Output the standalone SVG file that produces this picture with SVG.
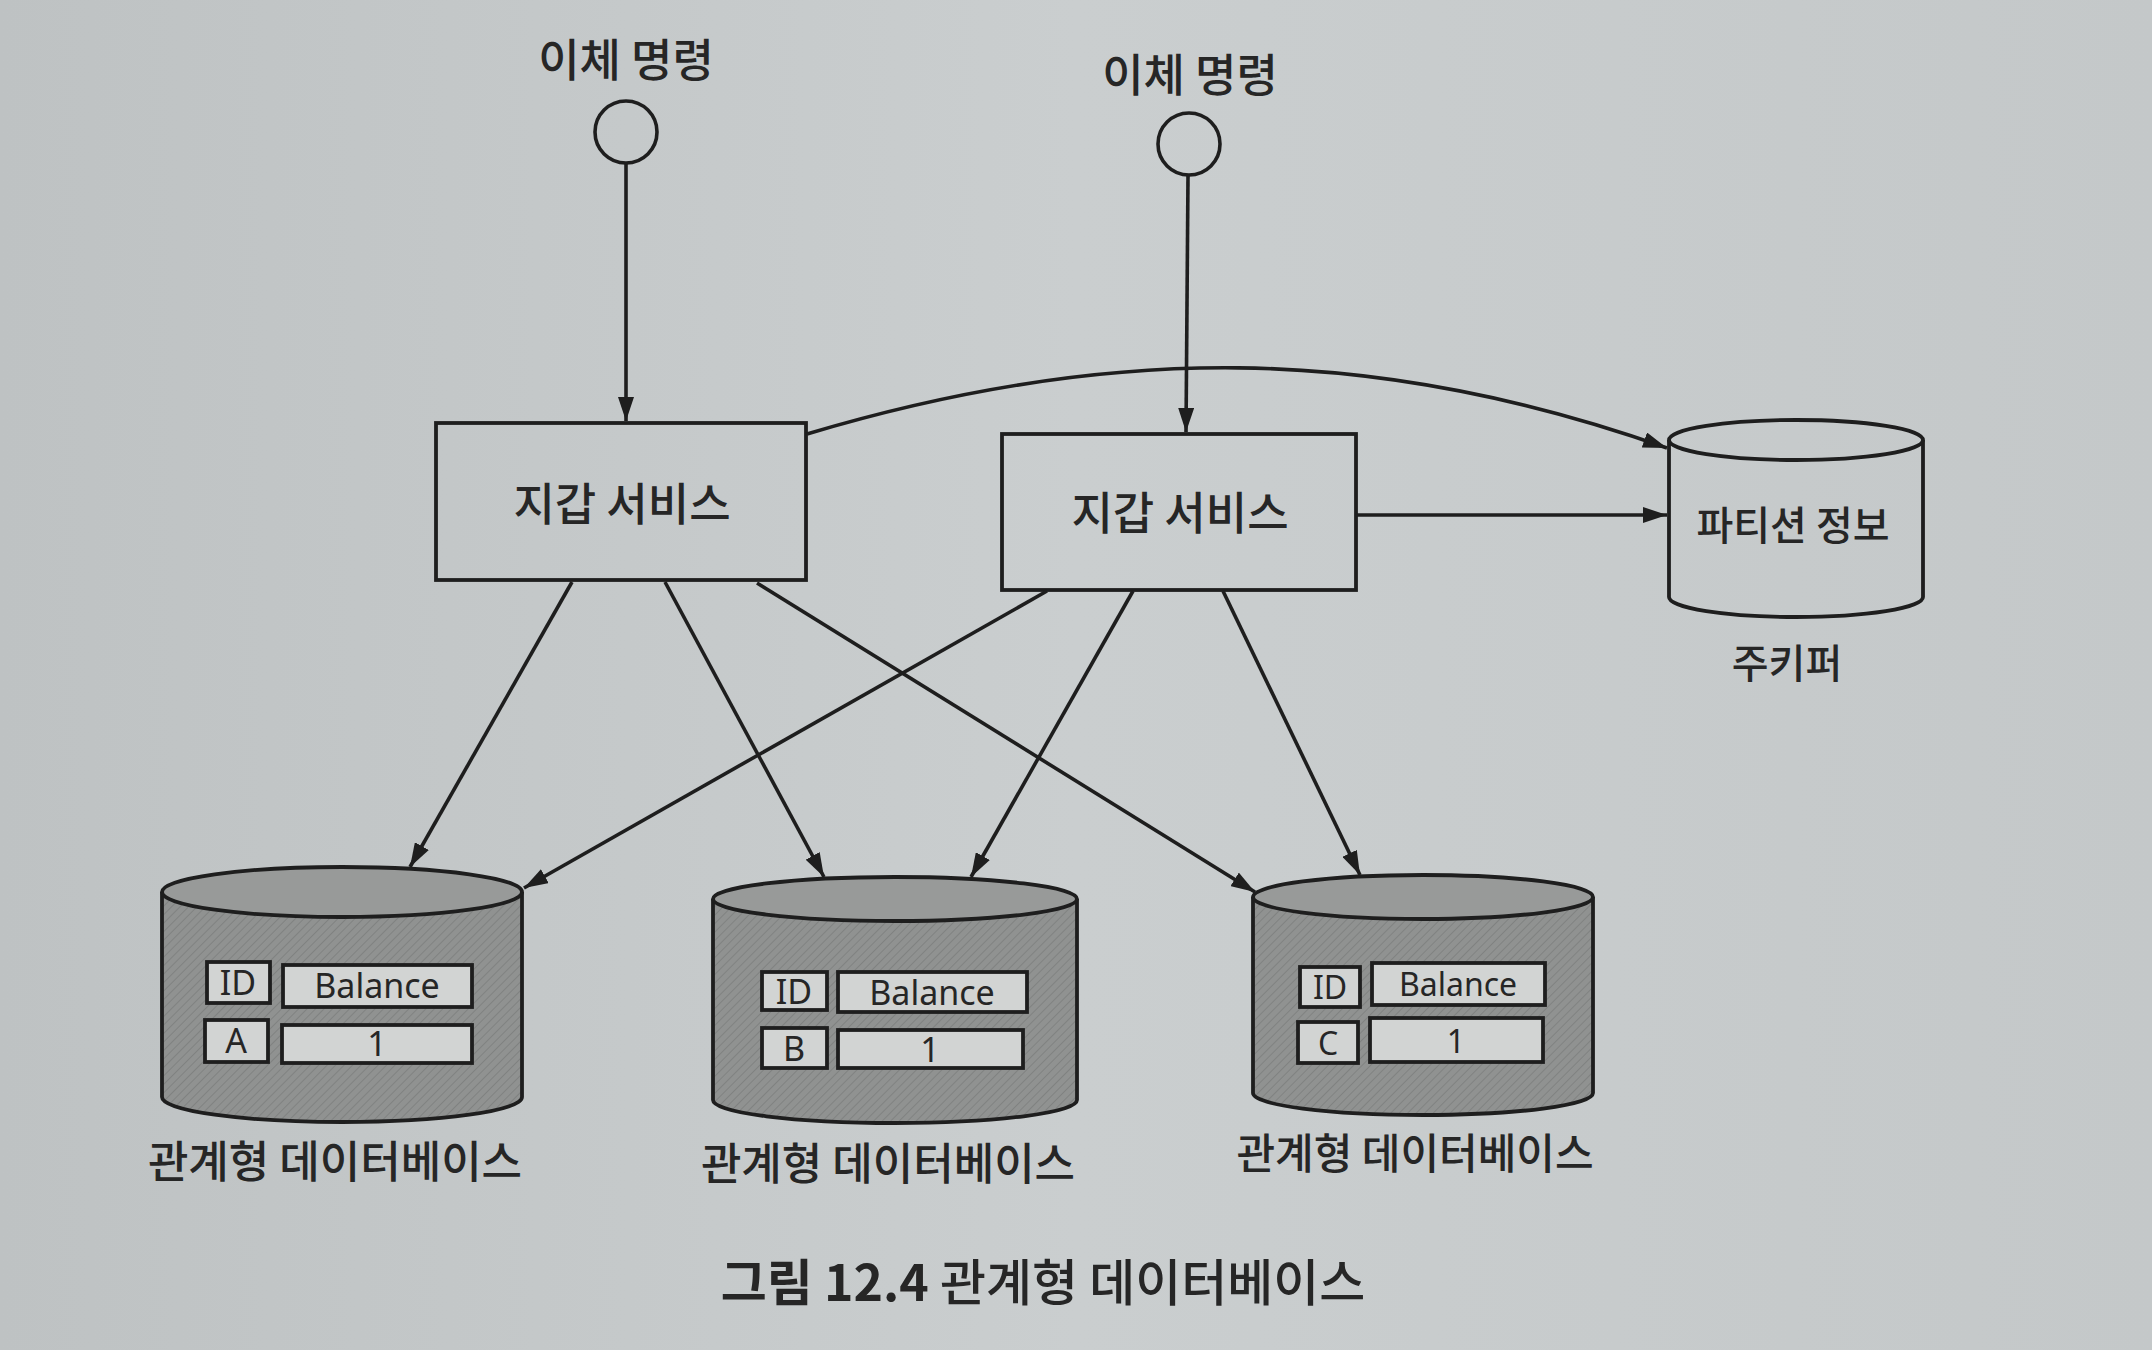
<svg xmlns="http://www.w3.org/2000/svg" width="2152" height="1350" viewBox="0 0 2152 1350">
<defs>
<linearGradient id="bg" x1="0" y1="0" x2="1" y2="0">
<stop offset="0" stop-color="#bec2c3"/>
<stop offset="0.5" stop-color="#cacecf"/>
<stop offset="1" stop-color="#c4c8c9"/>
</linearGradient>
<pattern id="hatch" width="6" height="6" patternUnits="userSpaceOnUse" patternTransform="rotate(45)">
<rect width="6" height="6" fill="#909291"/>
<line x1="0" y1="0" x2="0" y2="6" stroke="#808281" stroke-width="2"/>
</pattern>
<marker id="arr" viewBox="0 0 24 16" refX="24" refY="8" markerWidth="24" markerHeight="16" markerUnits="userSpaceOnUse" orient="auto">
<path d="M0,0 L24,8 L0,16 Z" fill="#1e1e1e"/>
</marker>
<style>
.ln{stroke:#1e1e1e;stroke-width:3.6;fill:none}
.conn{stroke:#1e1e1e;stroke-width:3.6;fill:none;marker-end:url(#arr)}
.box{fill:none;stroke:#1e1e1e;stroke-width:3.8}
.db{fill:url(#hatch);stroke:#1e1e1e;stroke-width:3.8}
.dbtop{fill:#989a99;stroke:#1e1e1e;stroke-width:3.8}
.cell{fill:#d2d4d3;stroke:#1e1e1e;stroke-width:3.8}
.kr{font-family:"Noto Sans CJK KR","Noto Sans",sans-serif;fill:#262626;text-anchor:middle;font-weight:500}
.lbl{font-size:45px}
.db-lbl{font-size:44px}
.zk{font-size:40px}
.tb{font-family:"Noto Sans","Open Sans",sans-serif;font-size:34px;fill:#262626;text-anchor:middle}
</style>
</defs>
<rect width="2152" height="1350" fill="url(#bg)"/>

<g id="cmd1">
<circle cx="626" cy="132" r="31" class="ln"/>
<text x="626" y="77" class="kr lbl">이체 명령</text>
</g>
<g id="cmd2">
<circle cx="1189" cy="144" r="31" class="ln"/>
<text x="1190" y="92" class="kr lbl">이체 명령</text>
</g>

<g id="wallet1">
<rect x="436" y="423" width="370" height="157" class="box"/>
<text x="622" y="521" class="kr lbl">지갑 서비스</text>
</g>
<g id="wallet2">
<rect x="1002" y="434" width="354" height="156" class="box"/>
<text x="1180" y="530" class="kr lbl">지갑 서비스</text>
</g>

<g id="zookeeper">
<path d="M1669,440 V597 A127,20 0 0 0 1923,597 V440" class="box"/>
<ellipse cx="1796" cy="440" rx="127" ry="20" class="box"/>
<text x="1793" y="540" class="kr zk">파티션 정보</text>
<text x="1787" y="678" class="kr zk">주키퍼</text>
</g>

<g id="db1">
<path d="M162,892 V1097 A180,25 0 0 0 522,1097 V892" class="db"/>
<ellipse cx="342" cy="892" rx="180" ry="25" class="dbtop"/>
<rect x="207" y="962" width="63" height="41" class="cell"/>
<rect x="283" y="965" width="189" height="42" class="cell"/>
<rect x="205" y="1020" width="63" height="42" class="cell"/>
<rect x="282" y="1025" width="190" height="38" class="cell"/>
<text x="238" y="995" class="tb">ID</text>
<text x="377" y="998" class="tb">Balance</text>
<text x="236" y="1053" class="tb">A</text>
<text x="377" y="1056" class="tb">1</text>
<text x="335" y="1178" class="kr db-lbl">관계형 데이터베이스</text>
</g>

<g id="db2">
<path d="M713,899 V1100 A182,23 0 0 0 1077,1100 V899" class="db"/>
<ellipse cx="895" cy="899" rx="182" ry="22" class="dbtop"/>
<rect x="762" y="972" width="65" height="38" class="cell"/>
<rect x="838" y="972" width="189" height="40" class="cell"/>
<rect x="762" y="1028" width="65" height="40" class="cell"/>
<rect x="838" y="1030" width="185" height="38" class="cell"/>
<text x="794" y="1004" class="tb">ID</text>
<text x="932" y="1005" class="tb">Balance</text>
<text x="794" y="1061" class="tb">B</text>
<text x="930" y="1062" class="tb">1</text>
<text x="888" y="1180" class="kr db-lbl">관계형 데이터베이스</text>
</g>

<g id="db3">
<path d="M1253,897 V1093 A170,22 0 0 0 1593,1093 V897" class="db"/>
<ellipse cx="1423" cy="897" rx="170" ry="22" class="dbtop"/>
<rect x="1300" y="967" width="60" height="40" class="cell"/>
<rect x="1372" y="963" width="173" height="42" class="cell"/>
<rect x="1298" y="1022" width="60" height="41" class="cell"/>
<rect x="1370" y="1018" width="173" height="44" class="cell"/>
<text x="1330" y="999" class="tb" style="font-size:32px">ID</text>
<text x="1458" y="996" class="tb" style="font-size:32px">Balance</text>
<text x="1328" y="1055" class="tb" style="font-size:32px">C</text>
<text x="1456" y="1053" class="tb" style="font-size:32px">1</text>
<text x="1415" y="1169" class="kr db-lbl" style="font-size:42px">관계형 데이터베이스</text>
</g>

<g id="connectors">
<line x1="626" y1="164" x2="626" y2="421" class="conn"/>
<line x1="1188" y1="176" x2="1186" y2="432" class="conn"/>
<line x1="1357" y1="515" x2="1667" y2="515" class="conn"/>
<path d="M807,434 C1108,344 1370,343 1667,448" class="conn"/>
<line x1="572" y1="582" x2="410" y2="867" class="conn"/>
<line x1="665" y1="582" x2="824" y2="877" class="conn"/>
<line x1="757" y1="583" x2="1255" y2="892" class="conn"/>
<line x1="1047" y1="591" x2="524" y2="888" class="conn"/>
<line x1="1133" y1="591" x2="971" y2="877" class="conn"/>
<line x1="1223" y1="591" x2="1360" y2="875" class="conn"/>
</g>

<g id="caption">
<text x="1043" y="1301" class="kr" style="font-size:50px"><tspan font-weight="bold">그림 12.4</tspan><tspan font-weight="500"> 관계형 데이터베이스</tspan></text>
</g>
</svg>
